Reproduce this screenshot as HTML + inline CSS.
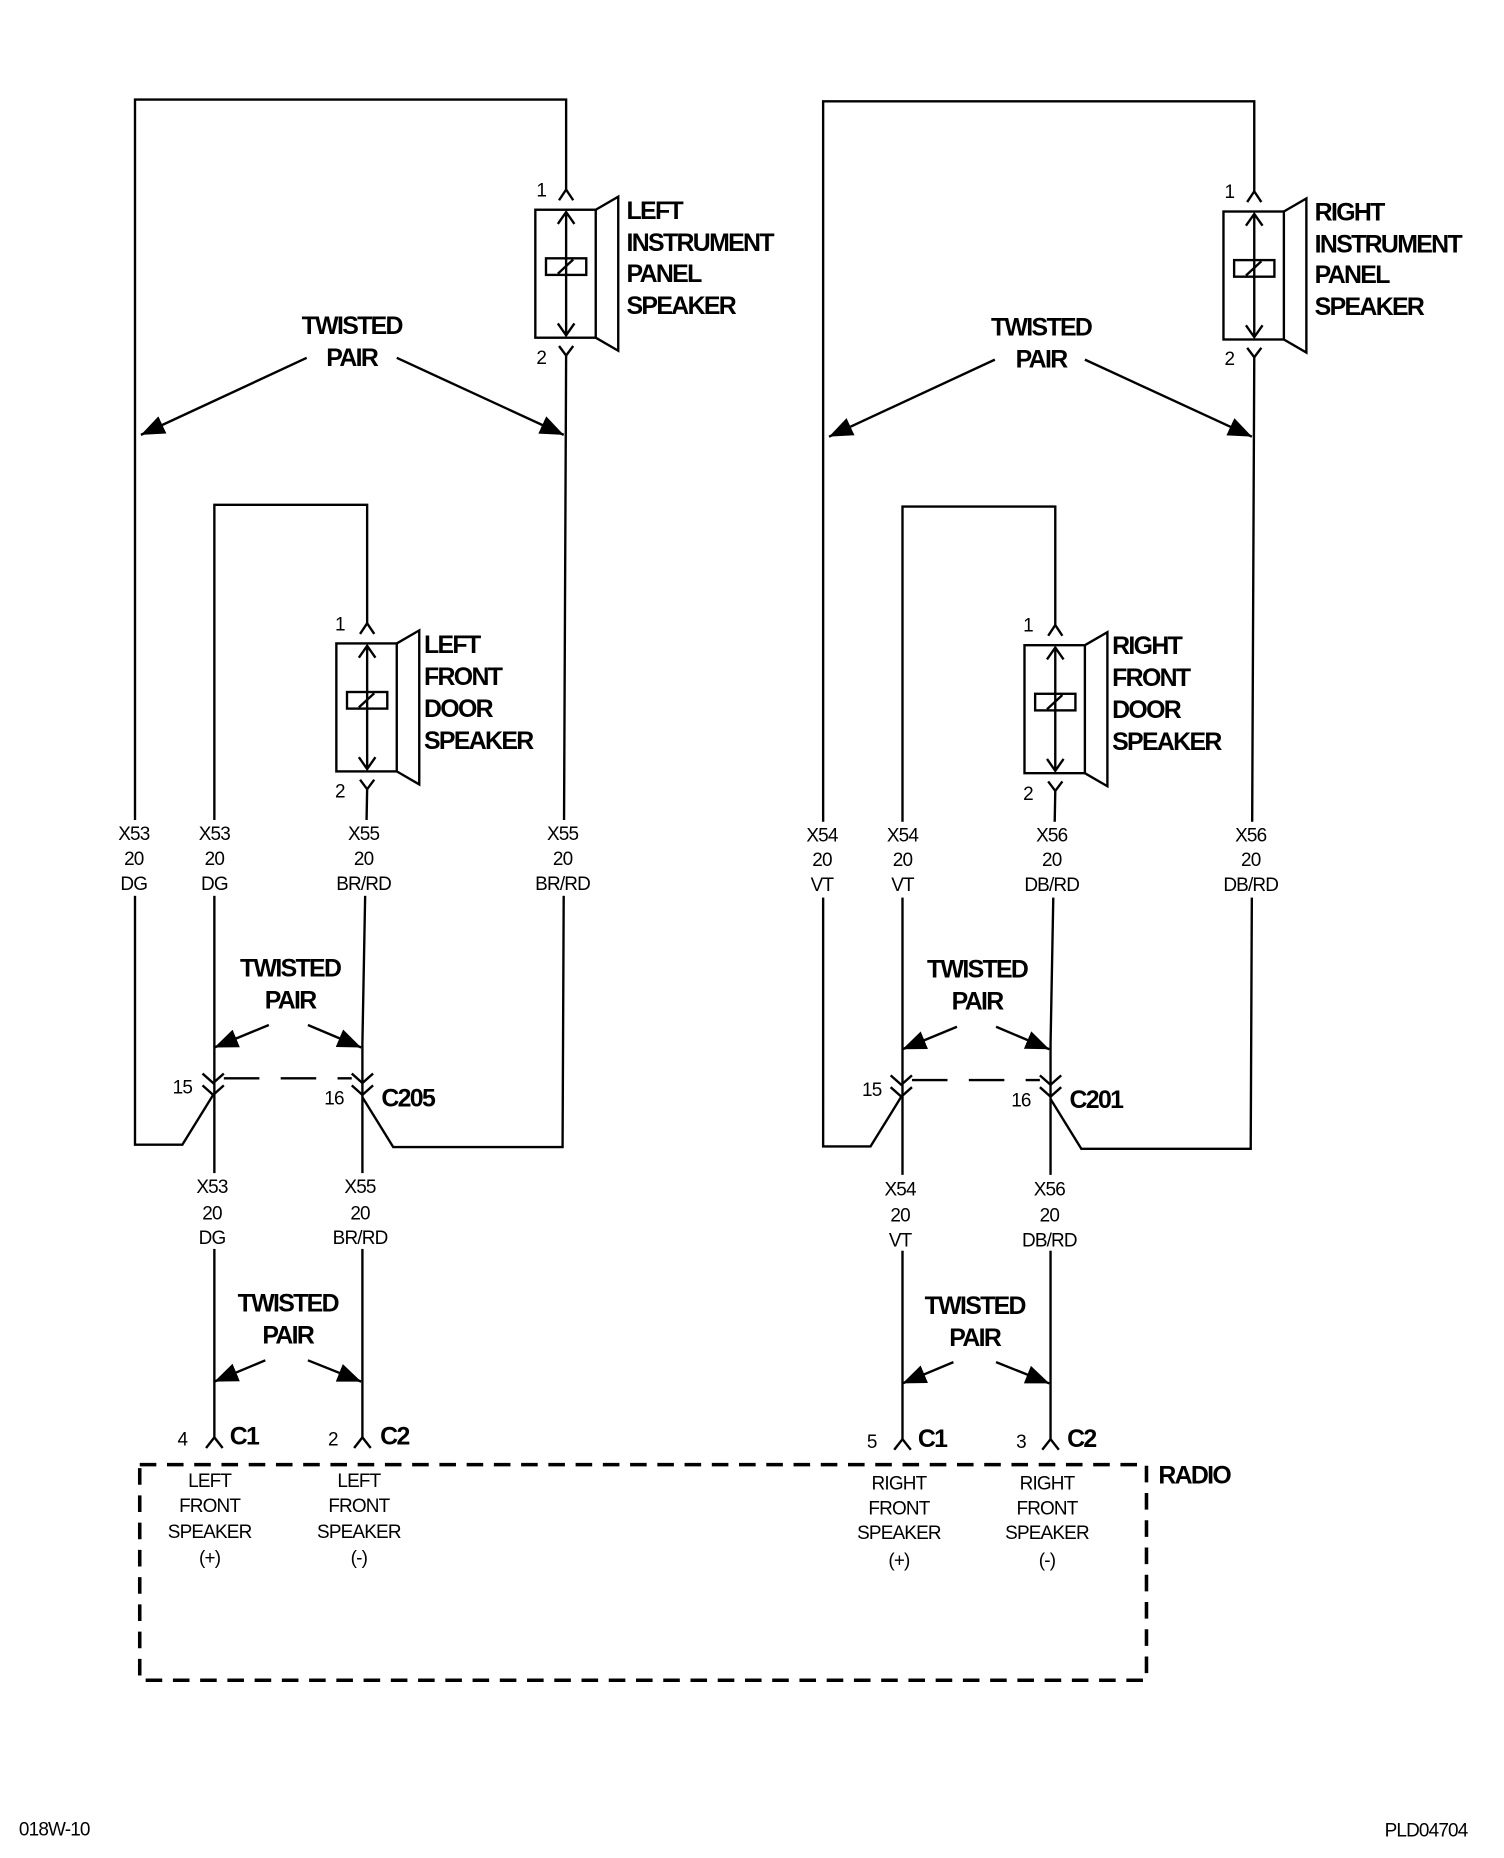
<!DOCTYPE html>
<html><head><meta charset="utf-8"><style>
html,body{margin:0;padding:0;background:#fff;}
svg{display:block;}
.s{font-family:"Liberation Sans",Arial,sans-serif;font-size:16px;letter-spacing:-0.7px;fill:#000;}
.b{font-family:"Liberation Sans",Arial,sans-serif;font-size:21px;font-weight:bold;letter-spacing:-1.4px;fill:#000;}
.m{text-anchor:middle;}
</style></head><body>
<svg width="1504" height="1858" viewBox="0 0 1280 1568" preserveAspectRatio="none" xmlns="http://www.w3.org/2000/svg">
<defs>
<marker id="ah" markerUnits="userSpaceOnUse" markerWidth="22" markerHeight="16" refX="20" refY="8" orient="auto">
<path d="M0,0 L20,8 L0,16 Z" fill="#000"/>
</marker>
<g id="spk" fill="none" stroke="#000" stroke-width="2">
<rect x="-26" y="0" width="51" height="108"/>
<path d="M25,0 L44,-11 L44,119 L25,108"/>
<rect x="-17" y="41" width="34" height="14"/>
<path d="M-7,54 L6,42"/>
<path d="M0,2 L0,106 M-7,12 L0,2 L7,12 M-7,96 L0,106 L7,96"/>
<path d="M-6,-8 L0,-17 L6,-8"/>
<path d="M-6,115 L0,123 L6,115"/>
</g>
<g id="blk" fill="none" stroke="#000" stroke-width="2">
<path d="M178,924 L152,966 L112,966 L112,84 L476,84 L476,160"/>
<path d="M476,300 L473,968 L330,968 L304,926"/>
<path d="M179,1213 L179,426 L308,426 L308,526"/>
<path d="M308,666 L304,880 L304,1213"/>
<use href="#spk" x="476" y="177"/>
<use href="#spk" x="308" y="543"/>
<path d="M169,906 L178,914 L187,906 M169,916 L178,924 L187,916"/>
<path d="M295,906 L304,914 L313,906 M295,916 L304,924 L313,916"/>
<path d="M187,910 L295,910" stroke-dasharray="30,18"/>
<path d="M172,1222 L179,1213 L186,1222"/>
<path d="M297,1222 L304,1213 L311,1222"/>
<g marker-end="url(#ah)">
<path d="M257,302 L117,367"/><path d="M333,302 L474,367"/>
<path d="M225,865 L179,884"/><path d="M258,865 L303,884"/>
<path d="M222,1148 L179,1166"/><path d="M258,1148 L303,1166"/>
</g>
<g fill="#fff" stroke="none">
<rect x="90" y="692" width="44" height="64"/>
<rect x="157" y="692" width="44" height="64"/>
<rect x="280" y="692" width="50" height="64"/>
<rect x="448" y="692" width="50" height="64"/>
<rect x="155" y="990" width="44" height="64"/>
<rect x="277" y="990" width="50" height="64"/>
</g>
</g>
</defs>
<g transform="translate(2,0) scale(1.008,1)">
<use href="#blk"/>
<use href="#blk" transform="translate(581,1.5)"/>
<rect x="116" y="1236" width="850" height="182" fill="none" stroke="#000" stroke-width="3" stroke-dasharray="14,9"/>

<text class="s" x="455" y="166" text-anchor="middle">1</text>
<text class="s" x="455" y="307" text-anchor="middle">2</text>
<text class="b" x="527" y="185">LEFT</text>
<text class="b" x="527" y="212">INSTRUMENT</text>
<text class="b" x="527" y="238">PANEL</text>
<text class="b" x="527" y="265">SPEAKER</text>
<text class="b m" x="295" y="282">TWISTED</text>
<text class="b m" x="295" y="309">PAIR</text>
<text class="s" x="285" y="532" text-anchor="middle">1</text>
<text class="s" x="285" y="673" text-anchor="middle">2</text>
<text class="b" x="356" y="551">LEFT</text>
<text class="b" x="356" y="578">FRONT</text>
<text class="b" x="356" y="605">DOOR</text>
<text class="b" x="356" y="632">SPEAKER</text>
<g class="s m">
<text x="111" y="709">X53</text><text x="111" y="730">20</text><text x="111" y="751">DG</text>
<text x="179" y="709">X53</text><text x="179" y="730">20</text><text x="179" y="751">DG</text>
<text x="305" y="709">X55</text><text x="305" y="730">20</text><text x="305" y="751">BR/RD</text>
<text x="473" y="709">X55</text><text x="473" y="730">20</text><text x="473" y="751">BR/RD</text>
<text x="177" y="1007">X53</text><text x="177" y="1029">20</text><text x="177" y="1050">DG</text>
<text x="302" y="1007">X55</text><text x="302" y="1029">20</text><text x="302" y="1050">BR/RD</text>
<text x="152" y="923">15</text><text x="280" y="932">16</text>
<text x="152" y="1220">4</text><text x="279" y="1220">2</text>
<text x="175" y="1255">LEFT</text><text x="175" y="1276">FRONT</text><text x="175" y="1298">SPEAKER</text><text x="175" y="1320">(+)</text>
<text x="301" y="1255">LEFT</text><text x="301" y="1276">FRONT</text><text x="301" y="1298">SPEAKER</text><text x="301" y="1320">(-)</text>
</g>
<text class="b m" x="243" y="824">TWISTED</text>
<text class="b m" x="243" y="851">PAIR</text>
<text class="b" x="320" y="934">C205</text>
<text class="b m" x="241" y="1107">TWISTED</text>
<text class="b m" x="241" y="1134">PAIR</text>
<text class="b" x="192" y="1219">C1</text>
<text class="b" x="319" y="1219">C2</text>

<text class="s" x="1036" y="167" text-anchor="middle">1</text>
<text class="s" x="1036" y="308" text-anchor="middle">2</text>
<text class="b" x="1108" y="186">RIGHT</text>
<text class="b" x="1108" y="213">INSTRUMENT</text>
<text class="b" x="1108" y="239">PANEL</text>
<text class="b" x="1108" y="266">SPEAKER</text>
<text class="b m" x="877" y="283">TWISTED</text>
<text class="b m" x="877" y="310">PAIR</text>
<text class="s" x="866" y="533" text-anchor="middle">1</text>
<text class="s" x="866" y="675" text-anchor="middle">2</text>
<text class="b" x="937" y="552">RIGHT</text>
<text class="b" x="937" y="579">FRONT</text>
<text class="b" x="937" y="606">DOOR</text>
<text class="b" x="937" y="633">SPEAKER</text>
<g class="s m">
<text x="692" y="710">X54</text><text x="692" y="731">20</text><text x="692" y="752">VT</text>
<text x="760" y="710">X54</text><text x="760" y="731">20</text><text x="760" y="752">VT</text>
<text x="886" y="710">X56</text><text x="886" y="731">20</text><text x="886" y="752">DB/RD</text>
<text x="1054" y="710">X56</text><text x="1054" y="731">20</text><text x="1054" y="752">DB/RD</text>
<text x="758" y="1009">X54</text><text x="758" y="1031">20</text><text x="758" y="1052">VT</text>
<text x="884" y="1009">X56</text><text x="884" y="1031">20</text><text x="884" y="1052">DB/RD</text>
<text x="734" y="925">15</text><text x="860" y="934">16</text>
<text x="734" y="1222">5</text><text x="860" y="1222">3</text>
<text x="757" y="1257">RIGHT</text><text x="757" y="1278">FRONT</text><text x="757" y="1299">SPEAKER</text><text x="757" y="1322">(+)</text>
<text x="882" y="1257">RIGHT</text><text x="882" y="1278">FRONT</text><text x="882" y="1299">SPEAKER</text><text x="882" y="1322">(-)</text>
</g>
<text class="b m" x="823" y="825">TWISTED</text>
<text class="b m" x="823" y="852">PAIR</text>
<text class="b" x="901" y="935">C201</text>
<text class="b m" x="821" y="1109">TWISTED</text>
<text class="b m" x="821" y="1136">PAIR</text>
<text class="b" x="773" y="1221">C1</text>
<text class="b" x="899" y="1221">C2</text>
<text class="b" x="976" y="1252">RADIO</text>

<text class="s" x="14" y="1549">018W-10</text>
<text class="s" x="1237" y="1550" text-anchor="end">PLD04704</text>
</g>
</svg>
</body></html>
